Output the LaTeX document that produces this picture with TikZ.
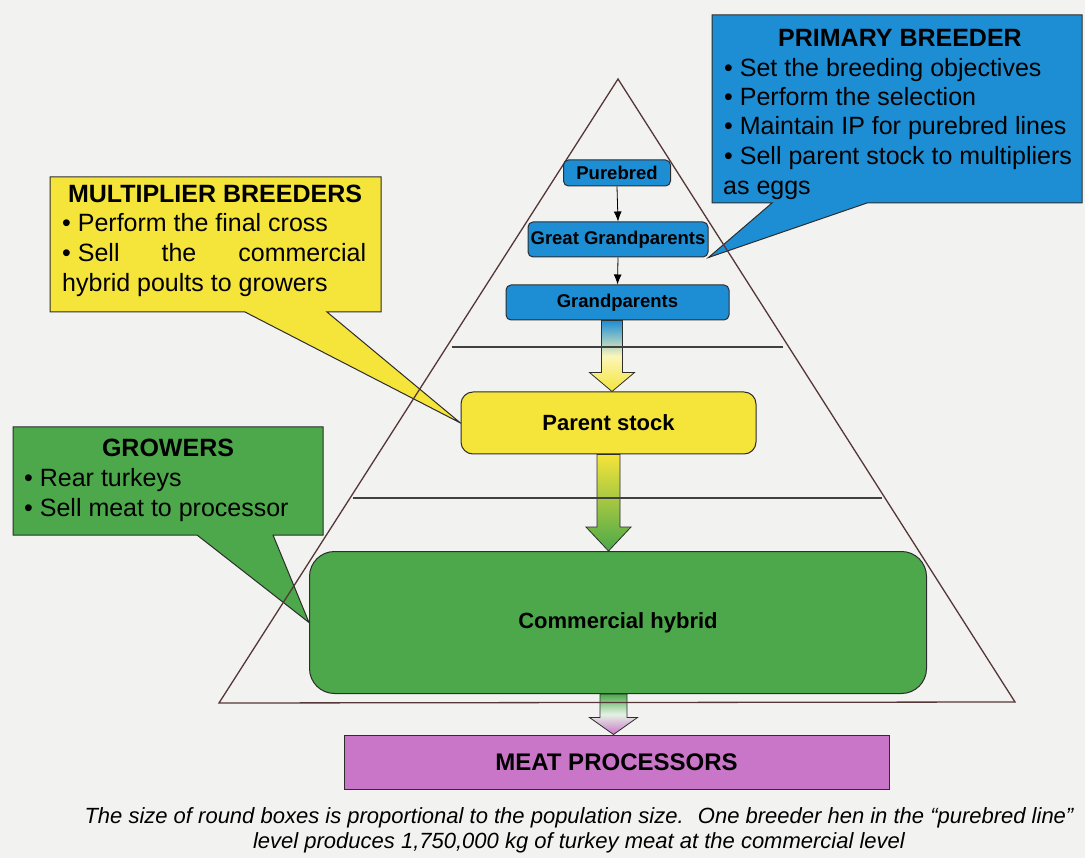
\documentclass[tikz,border=0pt]{standalone}
\usepackage{fontspec}
\setmainfont{Liberation Sans}
\usetikzlibrary{arrows.meta,calc}
\pgfdeclarelayer{back}
\pgfdeclarelayer{mid}
\pgfsetlayers{back,mid,main}
\definecolor{pblue}{RGB}{30,142,212}
\definecolor{pyellow}{RGB}{245,228,58}
\definecolor{pgreen}{RGB}{76,168,74}
\definecolor{ppurple}{RGB}{202,118,200}
\definecolor{bgcol}{RGB}{242,242,240}
\definecolor{edgecol}{RGB}{85,55,55}
\definecolor{outlinecol}{RGB}{45,45,45}
% #1 source node, #2 target node, #3 x offset of the arrow axis from target centre,
% #4 half shaft width, #5 half head width, #6 head length, #7 shading options
\newcommand{\flowarrow}[7]{%
  \path[#7, draw=outlinecol, line width=0.8pt]
    let \p1=(#1.south), \p2=(#2.north) in
    ({\x2+(#3)*1pt-#4pt},\y1) -- ({\x2+(#3)*1pt-#4pt},\y2+#6pt)
    -- ({\x2+(#3)*1pt-#5pt},\y2+#6pt) -- ({\x2+(#3)*1pt},\y2)
    -- ({\x2+(#3)*1pt+#5pt},\y2+#6pt) -- ({\x2+(#3)*1pt+#4pt},\y2+#6pt)
    -- ({\x2+(#3)*1pt+#4pt},\y1) -- cycle;}
\begin{document}
\begin{tikzpicture}[x=1pt,y=-1pt,
  box/.style={draw=outlinecol, line width=1pt, inner sep=0pt, align=center,
    font=\bfseries\fontsize{22}{26}\selectfont},
  bluebox/.style={box, fill=pblue, rounded corners=5pt,
    font=\bfseries\fontsize{18.5}{22}\selectfont},
  callout/.style={draw=outlinecol, line width=1pt},
  ctext/.style={inner sep=0pt, anchor=base west, font=\fontsize{25}{30}\selectfont},
  ctitle/.style={inner sep=0pt, anchor=base, font=\bfseries\fontsize{25}{30}\selectfont},
  thinarrow/.style={-{Latex[length=10pt,width=8pt]}, line width=0.8pt, draw=black},
  levelline/.style={draw=black!75, line width=1.2pt},
  captext/.style={inner sep=0pt, font=\itshape\fontsize{22}{26}\selectfont},
]
\useasboundingbox (0,0) rectangle (1085,858);

% ---- pyramid boxes
\node[bluebox, minimum width=107pt, minimum height=26pt] (pure) at (617,173) {Purebred};
\node[bluebox, minimum width=180pt, minimum height=35pt] (ggp) at (618,239.5) {Great Grandparents};
\node[bluebox, minimum width=223pt, minimum height=35pt] (gp) at (617.5,302.5) {Grandparents};
\node[box, fill=pyellow, rounded corners=12pt, minimum width=295pt, minimum height=62pt] (ps) at (608.5,423) {Parent stock};
\node[box, fill=pgreen, rounded corners=25pt, minimum width=617pt, minimum height=142pt] (ch) at (618,622.5) {Commercial hybrid};
\node[box, fill=ppurple, minimum width=545pt, minimum height=54pt,
  font=\bfseries\fontsize{24}{28}\selectfont] (meat) at (616.5,762) {MEAT PROCESSORS};

% ---- thin arrows
\draw[thinarrow] (pure.south) -- (ggp.north);
\draw[thinarrow] (ggp.south) -- (gp.north);

% ---- callout texts
\node[ctitle] (pbt) at (900,47) {PRIMARY BREEDER};
\node[ctext] (pb1) at (724,77) {• Set the breeding objectives};
\node[ctext] (pb2) at (724,106) {• Perform the selection};
\node[ctext] (pb3) at (724,135) {• Maintain IP for purebred lines};
\node[ctext] (pb4) at (724,165) {• Sell parent stock to multipliers};
\node[ctext] (pb5) at (723,195) {as eggs};

\node[ctitle] (mbt) at (215,203) {MULTIPLIER BREEDERS};
\node[ctext] (mb1) at (62,232) {• Perform the final cross};
\node[ctext] (mb2) at (62,262) {\makebox[304pt][s]{\mbox{• Sell} the commercial}};
\node[ctext] (mb3) at (62,292) {hybrid poults to growers};

\node[ctitle] (grt) at (168,457) {GROWERS};
\node[ctext] (gr1) at (24,487) {• Rear turkeys};
\node[ctext] (gr2) at (24,517) {• Sell meat to processor};

% ---- caption
\node[captext] (cap1) at (579,818)
  {The size of round boxes is proportional to the population size.~ One breeder hen in the “purebred line”};
\node[captext] (cap2) at (579,843)
  {level produces 1,750,000 kg of turkey meat at the commercial level};

% ---- background and callout shapes
\begin{pgfonlayer}{back}
  \fill[bgcol] (0,0) rectangle (1085,858);
  \draw[callout, fill=pblue] (712,15) -- (1082,15) -- (1082,203) -- (867,203)
    -- (ggp.south east) -- (772,203) -- (712,203) -- cycle;
  \draw[callout, fill=pyellow] (50,177) -- (381,177) -- (381,312) -- (327,312)
    -- (ps.west) -- (245,312) -- (50,312) -- cycle;
  \draw[callout, fill=pgreen] (13,427) -- (323,427) -- (323,535) -- (273,535)
    -- (ch.west) -- (197,535) -- (13,535) -- cycle;
\end{pgfonlayer}

% ---- block arrows, pyramid, level lines
\begin{pgfonlayer}{mid}
  \flowarrow{gp}{ps}{3.5}{10.5}{22.5}{19}{top color=pblue, bottom color=pyellow, middle color=pyellow!35!white}
  \flowarrow{ps}{ch}{-9.5}{11.5}{22.5}{24}{top color=pyellow, bottom color=pgreen, middle color=pyellow!50!pgreen}
  \flowarrow{ch}{meat}{-3}{13.5}{24}{17}{top color=pgreen, bottom color=ppurple, middle color=white!85!pgreen}
  \draw[edgecol, line width=1.3pt, line join=miter] (618,79) -- (1015,702) -- (219,703) -- cycle;
  \draw[levelline] (452,347) -- (783,347);
  \draw[levelline] (353,498) -- (882,498);
\end{pgfonlayer}
\end{tikzpicture}
\end{document}
